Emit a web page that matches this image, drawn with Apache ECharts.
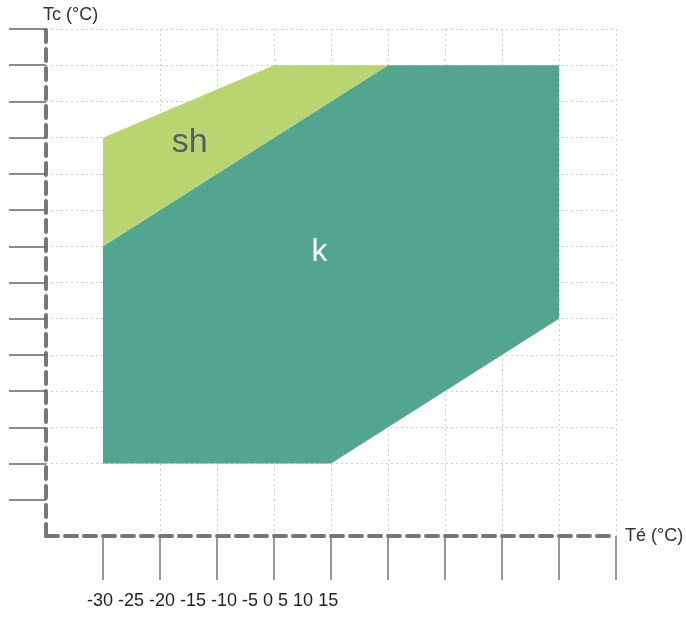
<!DOCTYPE html>
<html>
<head>
<meta charset="utf-8">
<script src="https://cdn.jsdelivr.net/npm/echarts@6/dist/echarts.min.js"></script>
<style>
  html, body { margin: 0; padding: 0; background: #fff; }
  #chart { width: 686px; height: 618px; }
</style>
</head>
<body>
<div id="chart"></div>
<script>
// axis values (Té on x, Tc on y — y has no printed labels)
var xTickLabels = [-30, -25, -20, -15, -10, -5, 0, 5, 10, 15];
var yTickValues = [1, 2, 3, 4, 5, 6, 7, 8, 9, 10, 11, 12, 13, 14];

// envelope polygons [Té, Tc]
var kPoints = [[-30, 8], [-30, 2], [-10, 2], [10, 6], [10, 13], [-5, 13]];
var shPoints = [[-30, 11], [-15, 13], [-5, 13], [-30, 8]];

// where the zone names sit
var kLabel = { name: 'k', at: [-11, 7.85] };
var shLabel = { name: 'sh', at: [-22.4, 10.85] };

var FONT = '"Liberation Sans", Arial, sans-serif';

function zoneSeries(points, label, fill, textColor, size) {
    return {
        type: 'custom',
        data: points,
        clip: false,
        renderItem: function (params, api) {
            if (params.dataIndex !== 0) {
                return null;
            }
            var pts = points.map(function (p) { return api.coord(p); });
            var c = api.coord(label.at);
            return {
                type: 'group',
                children: [{
                    type: 'polygon',
                    shape: { points: pts },
                    style: { fill: fill }
                }, {
                    type: 'text',
                    x: c[0],
                    y: c[1],
                    style: {
                        text: label.name,
                        fill: textColor,
                        font: size + 'px ' + FONT,
                        align: 'center',
                        verticalAlign: 'middle'
                    }
                }]
            };
        }
    };
}

var chart = echarts.init(document.getElementById('chart'));
chart.setOption({
    animation: false,
    backgroundColor: '#fff',
    grid: { left: 46, right: 70, top: 29, bottom: 82, outerBoundsMode: 'none' },
    xAxis: {
        type: 'value',
        min: -35,
        max: 15,
        interval: 5,
        name: 'Té (°C)',
        nameLocation: 'end',
        nameGap: 9,
        nameTextStyle: { color: '#333', fontSize: 18, fontFamily: FONT, padding: [18, 0, 0, 0] },
        axisLine: { show: true, onZero: false, lineStyle: { color: '#777', width: 4, type: [12, 7] } },
        axisTick: { show: true, length: 44, inside: false, customValues: xTickLabels, lineStyle: { color: '#777', width: 1.5 } },
        axisLabel: { show: false },
        splitLine: { show: true, showMinLine: false, lineStyle: { color: '#cfcfcf', width: 1, type: [2, 3] } }
    },
    yAxis: {
        type: 'value',
        min: 0,
        max: 14,
        interval: 1,
        name: 'Tc (°C)',
        nameLocation: 'end',
        nameGap: 5,
        nameTextStyle: { color: '#333', fontSize: 18, fontFamily: FONT, align: 'left', padding: [0, 0, 0, -3] },
        axisLine: { show: true, onZero: false, lineStyle: { color: '#777', width: 4, type: [12, 7] } },
        axisTick: { show: true, length: 37, inside: false, customValues: yTickValues, lineStyle: { color: '#666', width: 1.5 } },
        axisLabel: { show: false },
        splitLine: { show: true, showMinLine: false, lineStyle: { color: '#cfcfcf', width: 1, type: [2, 3] } }
    },
    graphic: [{
        type: 'text',
        left: 87,
        top: 592,
        style: {
            text: xTickLabels.join(' '),
            fill: '#222',
            font: '18px ' + FONT
        }
    }],
    series: [
        zoneSeries(kPoints, kLabel, '#52a58f', '#ffffff', 32),
        zoneSeries(shPoints, shLabel, '#bad56f', '#565d67', 34)
    ]
});
</script>
</body>
</html>
